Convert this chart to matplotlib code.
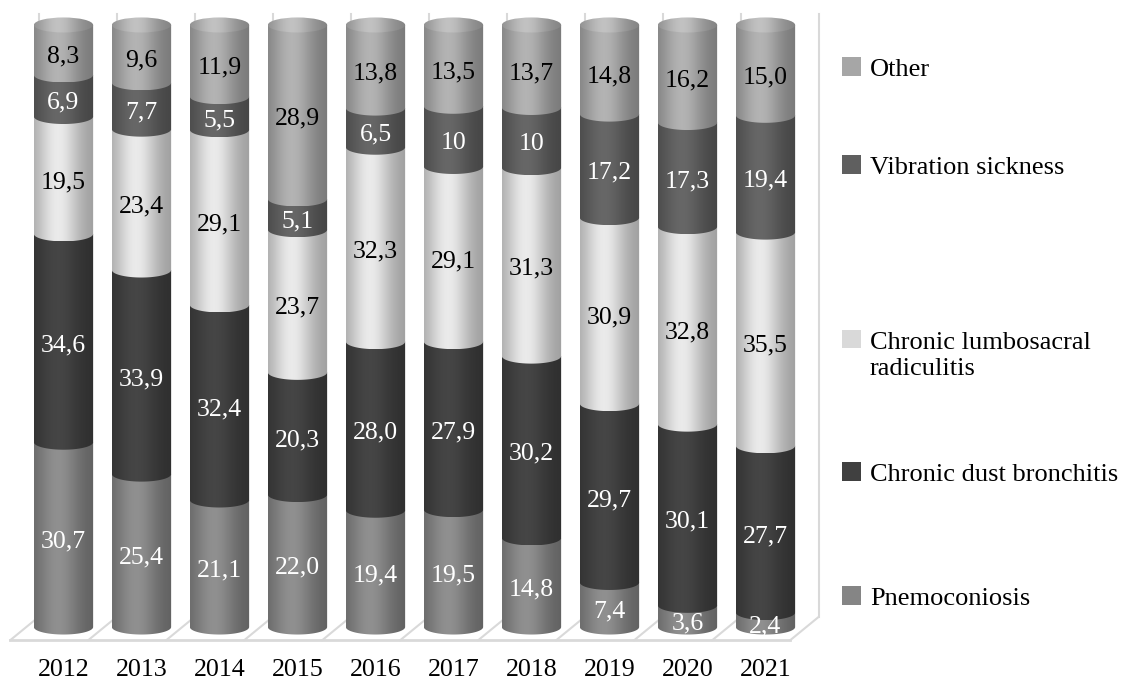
import numpy as np
import matplotlib.pyplot as plt
from matplotlib.patches import Polygon, Ellipse, Patch, Rectangle
from matplotlib.legend_handler import HandlerPatch
from matplotlib.colors import to_rgb

plt.rcParams['font.family'] = ['Liberation Serif', 'DejaVu Serif']

years = ['2012', '2013', '2014', '2015', '2016', '2017', '2018', '2019', '2020', '2021']
categories = ['Pnemoconiosis', 'Chronic dust bronchitis',
              'Chronic lumbosacral\nradiculitis', 'Vibration sickness', 'Other']
pnemoconiosis = [30.7, 25.4, 21.1, 22.0, 19.4, 19.5, 14.8, 7.4, 3.6, 2.4]
dust_bronchitis = [34.6, 33.9, 32.4, 20.3, 28.0, 27.9, 30.2, 29.7, 30.1, 27.7]
lumbosacral = [19.5, 23.4, 29.1, 23.7, 32.3, 29.1, 31.3, 30.9, 32.8, 35.5]
vibration = [6.9, 7.7, 5.5, 5.1, 6.5, 10, 10, 17.2, 17.3, 19.4]
other = [8.3, 9.6, 11.9, 28.9, 13.8, 13.5, 13.7, 14.8, 16.2, 15.0]

series = [pnemoconiosis, dust_bronchitis, lumbosacral, vibration, other]
colors = ['#858585', '#404040', '#d9d9d9', '#5f5f5f', '#a6a6a6']
text_colors = ['white', 'white', 'black', 'white', 'black']


def shade(color, factor=1.0, n=80):
    # horizontal light profile of a cylinder
    t = np.linspace(0, 1, n)
    m = (0.72 + 0.36 * np.exp(-((t - 0.4) / 0.36) ** 2)) * factor
    rgb = np.clip(np.outer(m, to_rgb(color)), 0, 1)
    return rgb[np.newaxis, :, :]


def first_line_square(legend, orig_handle, xdescent, ydescent, width, height, fontsize):
    # square next to the first line of a two line label
    return Rectangle((-xdescent, -ydescent + 0.62 * fontsize), width, height)


fig = plt.figure(figsize=(11.26, 6.81), dpi=100)
ax = fig.add_axes([0, 31 / 681, 830 / 1126, 650 / 681])

w = 0.76    # cylinder width
eh = 1.25   # half height of the ellipses
theta = np.linspace(0, np.pi, 60)

# floor and back wall
front, back, dx = -2.16, 1.66, 0.18
n = len(years)
edges = np.arange(n + 1) - 0.5
ax.plot([edges[0] - dx, edges[-1] - dx], [front, front], color='#d9d9d9', lw=2, zorder=1)
for e in edges:
    ax.plot([e - dx, e + dx], [front, back], color='#d9d9d9', lw=1.5, zorder=1)
    ax.plot([e + dx, e + dx], [back, 101.8], color='#d9d9d9', lw=1.5, zorder=1)

for i in range(n):
    bottom = 0
    for vals, col, tc in zip(series, colors, text_colors):
        v = vals[i]
        top = bottom + v
        verts = list(zip(i - w / 2 * np.cos(theta), bottom - eh * np.sin(theta)))
        verts += [(i + w / 2, top), (i - w / 2, top)]
        poly = Polygon(verts, closed=True, facecolor='none', edgecolor='none')
        ax.add_patch(poly)
        im = ax.imshow(shade(col), extent=[i - w / 2, i + w / 2, bottom - eh, top],
                       aspect='auto', interpolation='bilinear', zorder=2)
        im.set_clip_path(poly)
        ax.text(i, bottom + v / 2 - eh * 0.92, str(v).replace('.', ','),
                ha='center', va='center', fontsize=18.5, color=tc, zorder=3)
        bottom = top
    cap = Ellipse((i, bottom), w, 2 * eh, facecolor='none', edgecolor='none')
    ax.add_patch(cap)
    im = ax.imshow(shade(colors[-1], 1.08), extent=[i - w / 2, i + w / 2, bottom - eh, bottom + eh],
                   aspect='auto', interpolation='bilinear', zorder=2.5)
    im.set_clip_path(cap)

ax.set_xlim(-0.814, 9.827)
ax.set_ylim(-3.82, 104.15)
ax.set_xticks(range(n))
ax.set_xticklabels(years, fontsize=18.7)
ax.tick_params(axis='x', length=0, pad=6.5)
ax.set_yticks([])
for s in ax.spines.values():
    s.set_visible(False)

# legend entries, Excel spreads them unevenly
legend_y = [598, 474, 356, 167, 69]
for name, col, py in zip(categories, colors, legend_y):
    h = Patch(facecolor=col, edgecolor='none')
    hmap = {h: HandlerPatch(patch_func=first_line_square)} if '\n' in name else None
    fig.legend(handles=[h], labels=[name], handler_map=hmap,
               loc='center left', bbox_to_anchor=(842 / 1126, 1 - py / 681),
               frameon=False, fontsize=19, handlelength=0.72, handleheight=0.72,
               handletextpad=0.34, borderpad=0, borderaxespad=0)

plt.savefig('out.png', dpi=100)
